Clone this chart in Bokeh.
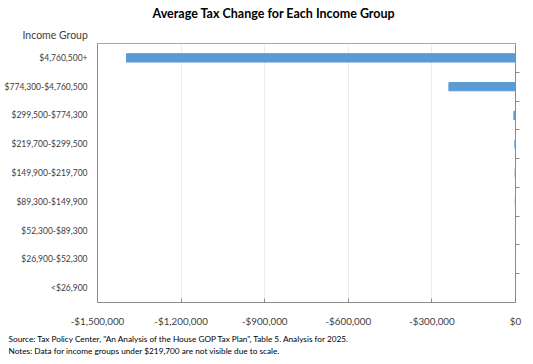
from bokeh.plotting import figure
from bokeh.models import (Range1d, FixedTicker, LinearAxis, CustomJSTickFormatter, Title,
                          ColumnDataSource)
from bokeh.embed import file_html
from bokeh.resources import INLINE

groups = ["<$26,900", "$26,900-$52,300", "$52,300-$89,300", "$89,300-$149,900",
          "$149,900-$219,700", "$219,700-$299,500", "$299,500-$774,300",
          "$774,300-$4,760,500", "$4,760,500+"]
tax_change = [-20, -100, -330, -700, -1200, -2100, -5800, -239000, -1396000]
x_ticks = [-1500000, -1200000, -900000, -600000, -300000, 0]

title_text = "Average Tax Change for Each Income Group"
y_title = "Income Group"
source_note = 'Source: Tax Policy Center, "An Analysis of the House GOP Tax Plan", Table 5. Analysis for 2025.'
notes = "Notes: Data for income groups under $219,700 are not visible due to scale."

FONT = "Lato"
TXT = "#404040"

n = len(groups)
centers = [i + 0.5 for i in range(n)]
src = ColumnDataSource(dict(y=centers, v=tax_change, g=groups))

p = figure(width=525, height=358, y_range=Range1d(0, n), x_range=Range1d(-1500000, 0),
           output_backend="svg", toolbar_location=None,
           min_border_left=97, min_border_right=10, min_border_top=43, min_border_bottom=56)
p.hbar(y="y", left=0, right="v", height=0.29, source=src,
       fill_color="#5B9BD5", line_color="#5B9BD5")

p.outline_line_color = "#a6a6a6"
p.ygrid.grid_line_color = None
p.xgrid.grid_line_color = "#ececec"
p.xgrid.ticker = FixedTicker(ticks=x_ticks)

xa = p.xaxis[0]
xa.ticker = FixedTicker(ticks=x_ticks)
xa.formatter = CustomJSTickFormatter(code="""
const a = Math.abs(tick).toLocaleString('en-US');
return (tick < 0 ? '-$' : '$') + a;
""")
xa.axis_line_color = "#8c8c8c"
xa.major_tick_line_color = "#8c8c8c"
xa.major_tick_in = 4
xa.major_tick_out = 0
xa.minor_tick_line_color = None
xa.major_label_text_font = FONT
xa.major_label_text_font_size = "9.8px"
xa.major_label_text_color = TXT
xa.major_label_standoff = 12

ya = p.yaxis[0]
ya.ticker = FixedTicker(ticks=centers)
ya.major_label_overrides = {c: g for c, g in zip(centers, groups)}
ya.axis_line_color = "#8c8c8c"
ya.major_tick_line_color = None
ya.minor_tick_line_color = None
ya.major_label_text_font = FONT
ya.major_label_text_font_size = "8.5px"
ya.major_label_text_color = TXT
ya.major_label_standoff = 4

edges = list(range(1, n))
ra = LinearAxis(ticker=FixedTicker(ticks=edges),
                major_label_overrides={e: "" for e in edges}, axis_line_color="#8c8c8c",
                major_tick_line_color="#8c8c8c", major_tick_in=0, major_tick_out=4,
                minor_tick_line_color=None, major_label_standoff=0)
p.add_layout(ra, "right")

p.title.text = title_text
p.title.align = "left"
p.title.offset = 55
p.title.standoff = 5
p.title.text_font = FONT
p.title.text_font_style = "bold"
p.title.text_font_size = "12.5px"
p.title.text_color = "#000000"

p.add_layout(Title(text=y_title, align="left", offset=-75, standoff=6, text_font=FONT,
                   text_font_style="normal", text_font_size="10.5px", text_color=TXT), "above")
p.add_layout(Title(text=source_note, align="left", offset=-89, standoff=4,
                   vertical_align="bottom", text_font=FONT, text_font_style="normal",
                   text_font_size="8.25px", text_color="#000000"), "below")
p.add_layout(Title(text=notes, align="left", offset=-89, standoff=0,
                   vertical_align="top", text_font=FONT, text_font_style="normal",
                   text_font_size="8.25px", text_color="#000000"), "below")

open("out.html", "w").write(file_html(p, INLINE))
